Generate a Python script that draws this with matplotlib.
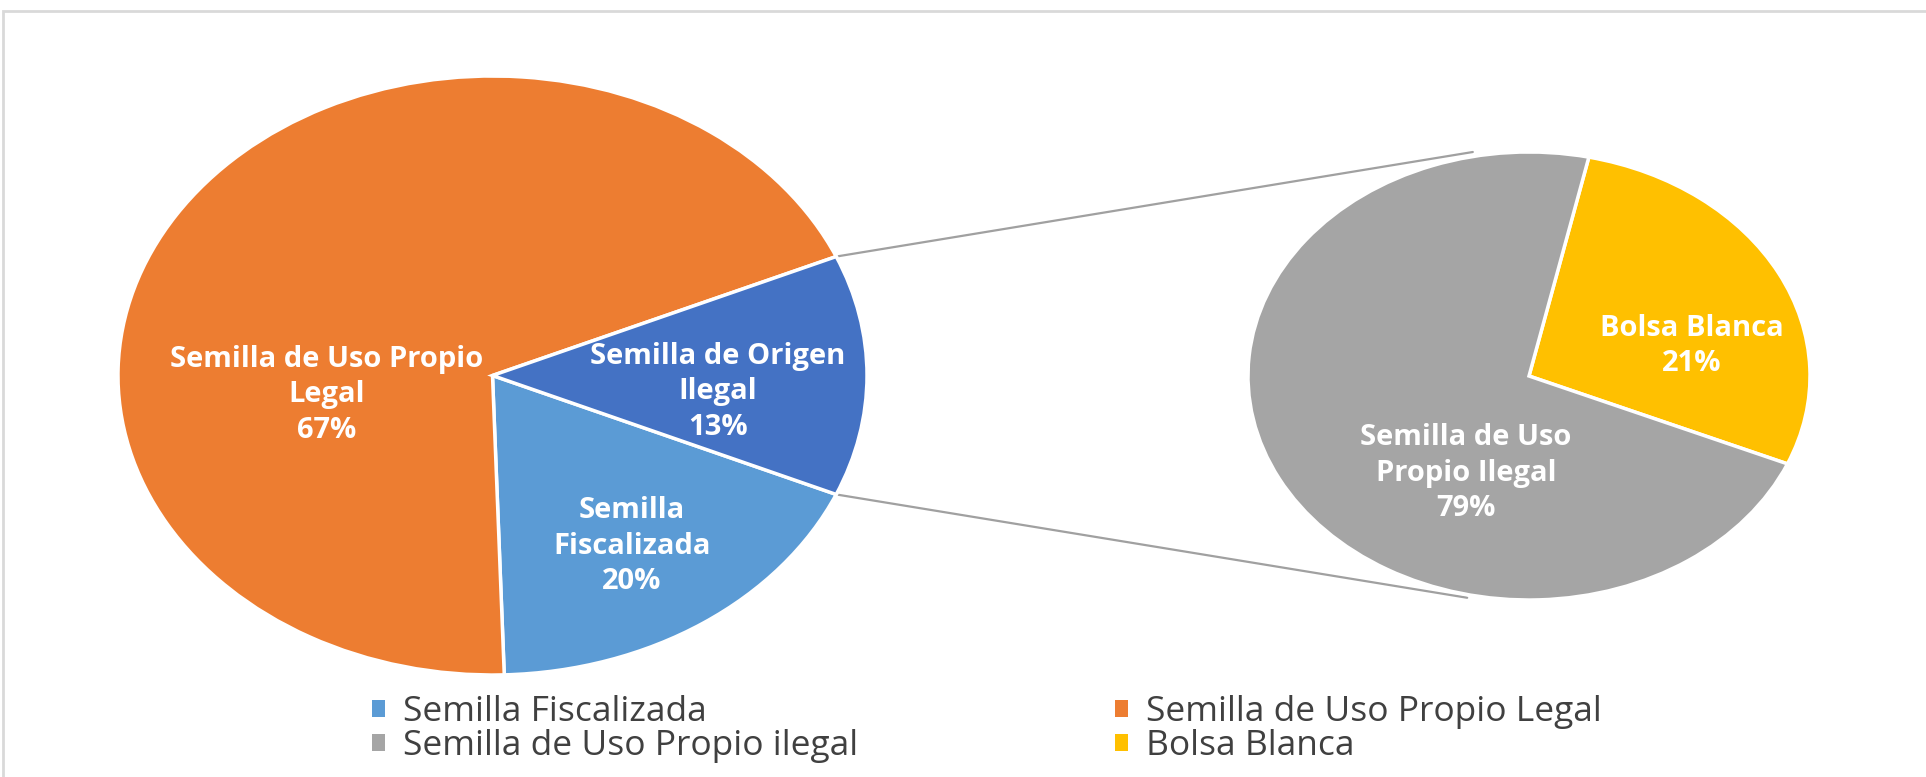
import matplotlib
matplotlib.use("Agg")
import matplotlib.pyplot as plt
from matplotlib.patches import Patch, Rectangle, ConnectionPatch
import numpy as np

plt.rcParams['font.family'] = ['Open Sans', 'DejaVu Sans']

# ---- data ----
main_names = ["Semilla Fiscalizada", "Semilla de Uso Propio Legal", "Semilla de Origen Ilegal"]
main_values = [18, 69, 13]          # slice sizes as drawn
main_labels = ["Semilla\nFiscalizada\n20%", "Semilla de Uso Propio\nLegal\n67%", "Semilla de Origen\nIlegal\n13%"]

sec_names = ["Bolsa Blanca", "Semilla de Uso Propio ilegal"]
sec_values = [28, 72]               # slice sizes as drawn
sec_labels = ["Bolsa Blanca\n21%", "Semilla de Uso\nPropio Ilegal\n79%"]

legend_order = ["Semilla Fiscalizada", "Semilla de Uso Propio ilegal",
                "Semilla de Uso Propio Legal", "Bolsa Blanca"]

colors = {
    "Semilla Fiscalizada": "#5B9BD5",
    "Semilla de Uso Propio Legal": "#ED7D31",
    "Semilla de Origen Ilegal": "#4472C4",
    "Semilla de Uso Propio ilegal": "#A5A5A5",
    "Bolsa Blanca": "#FFC000",
}

W, H = 1926, 777
fig = plt.figure(figsize=(W / 100, H / 100), dpi=100)
fig.patch.set_facecolor("white")

def px_rect(x0, y0, x1, y1):
    return [x0 / W, 1 - y1 / H, (x1 - x0) / W, (y1 - y0) / H]

# outer frame
fig.patches.append(Rectangle((3 / W, -0.1), 1.1, 1 - 11 / H + 0.1, transform=fig.transFigure,
                             fill=False, edgecolor="#D9D9D9", linewidth=2))

# main pie
ax1 = fig.add_axes(px_rect(118, 76, 867, 675))
ax1.pie(main_values, colors=[colors[n] for n in main_names], startangle=-23.4,
        counterclock=False, radius=1, wedgeprops=dict(edgecolor="white", linewidth=2.5))
ax1.set_aspect("auto")
ax1.set_xlim(-1, 1)
ax1.set_ylim(-1, 1)
ax1.axis("off")

# secondary pie
ax2 = fig.add_axes(px_rect(1248, 152, 1810, 600))
ax2.pie(sec_values, colors=[colors[n] for n in sec_names], startangle=77.7,
        counterclock=False, radius=1, wedgeprops=dict(edgecolor="white", linewidth=2.5))
ax2.set_aspect("auto")
ax2.set_xlim(-1, 1)
ax2.set_ylim(-1, 1)
ax2.axis("off")

# connector lines
a = np.deg2rad(23.4)
for (xa, ya), (xb, yb) in [((np.cos(a), np.sin(a)), (-0.2, 1.0)),
                           ((np.cos(a), -np.sin(a)), (-0.22, -0.99))]:
    con = ConnectionPatch(xyA=(xa, ya), coordsA=ax1.transData, xyB=(xb, yb), coordsB=ax2.transData,
                          color="#A0A0A0", linewidth=1.6, zorder=0)
    fig.add_artist(con)

# data labels (pixel positions of text centres)
label_pos_main = [(632, 546), (327, 395), (718, 392)]
label_pos_sec = [(1692, 346), (1466, 473)]
for txt, (x, y) in zip(main_labels + sec_labels, label_pos_main + label_pos_sec):
    fig.text(x / W, 1 - y / H, txt, ha="center", va="center", color="white",
             fontsize=21, fontweight="bold", linespacing=1.3)

# legend
handles = [Patch(facecolor=colors[n], edgecolor="none") for n in legend_order]
for cols, x in [((0, 1), 372), ((2, 3), 1115)]:
    leg = fig.legend([handles[i] for i in cols], [legend_order[i] for i in cols],
                     loc="upper left", bbox_to_anchor=(x / W, 1 - 695 / H),
                     frameon=False, fontsize=25.5, handlelength=0.38, handleheight=0.38,
                     handletextpad=0.5, labelspacing=0.0, borderpad=0, borderaxespad=0)
    for t in leg.get_texts():
        t.set_color("#404040")

fig.savefig("out.png", dpi=100, facecolor="white")
